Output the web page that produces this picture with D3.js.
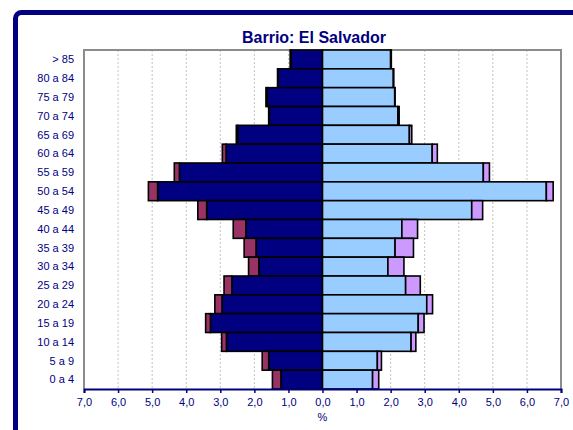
<!DOCTYPE html>
<html>
<head>
<meta charset="utf-8">
<script src="https://cdn.jsdelivr.net/npm/d3@7"></script>
<style>
  body { margin: 0; background: #fff; }
  svg text { font-family: Arial, "Liberation Sans", sans-serif; fill: #000080; }
</style>
</head>
<body>
<div id="chart"></div>
<script>
"use strict";

// age groups, top to bottom
const ageGroups = ["> 85", "80 a 84", "75 a 79", "70 a 74", "65 a 69", "60 a 64", "55 a 59",
  "50 a 54", "45 a 49", "40 a 44", "35 a 39", "30 a 34", "25 a 29", "20 a 24",
  "15 a 19", "10 a 14", "5 a 9", "0 a 4"];

// left side (%), inner segment and outer extension
const leftMain = [0.92, 1.30, 1.62, 1.56, 2.49, 2.83, 4.20, 4.84, 3.40, 2.25, 1.95, 1.87, 2.66, 2.95, 3.29, 2.82, 1.58, 1.22];
const leftExtra = [0.03, 0.02, 0.04, 0.02, 0.04, 0.11, 0.15, 0.27, 0.26, 0.37, 0.35, 0.30, 0.23, 0.21, 0.14, 0.14, 0.19, 0.25];

// right side (%)
const rightMain = [2.00, 2.08, 2.12, 2.21, 2.55, 3.22, 4.72, 6.57, 4.38, 2.33, 2.13, 1.92, 2.44, 3.06, 2.81, 2.60, 1.61, 1.47];
const rightExtra = [0.02, 0.01, 0.01, 0.04, 0.07, 0.15, 0.18, 0.20, 0.32, 0.46, 0.54, 0.47, 0.43, 0.17, 0.17, 0.14, 0.12, 0.18];

const xTicks = [-7, -6, -5, -4, -3, -2, -1, 0, 1, 2, 3, 4, 5, 6, 7];

const width = 573, height = 430;
const margins = {top: 50, right: 12, bottom: 41, left: 84};
const plotW = width - margins.left - margins.right;
const plotH = height - margins.top - margins.bottom;

const svg = d3.select("#chart")
  .append("svg")
  .attr("width", width)
  .attr("height", height);

// outer navy frame (runs off the right and bottom)
svg.append("rect")
  .attr("x", 15.5).attr("y", 12.5)
  .attr("width", 700).attr("height", 600)
  .attr("rx", 6)
  .attr("fill", "#fff")
  .attr("stroke", "#000080")
  .attr("stroke-width", 5);

svg.append("text")
  .attr("x", 314).attr("y", 42.5)
  .attr("text-anchor", "middle")
  .style("font-size", "16px")
  .style("font-weight", "bold")
  .text("Barrio: El Salvador");

const g = svg.append("g")
  .attr("transform", `translate(${margins.left},${margins.top})`);

const x = d3.scaleLinear().domain([-7, 7]).range([0, plotW]);
const y = d3.scaleBand().domain(ageGroups).range([0, plotH]).padding(0);

// grid
g.append("g")
  .selectAll("line")
  .data(xTicks.filter(t => t > -7 && t < 7))
  .join("line")
  .attr("x1", d => x(d)).attr("x2", d => x(d))
  .attr("y1", 0).attr("y2", plotH)
  .attr("stroke", "#c0c0c0")
  .attr("stroke-dasharray", "2,2");

// plot border (gray)
g.append("path")
  .attr("d", `M0,${plotH}V0H${plotW}V${plotH}`)
  .attr("fill", "none")
  .attr("stroke", "#8c8c8c")
  .attr("stroke-width", 2);

// build segments
let segs = [];
ageGroups.forEach((a, i) => {
  segs.push({age: a, x0: -leftMain[i], x1: 0, color: "#000080"});
  segs.push({age: a, x0: -(leftMain[i] + leftExtra[i]), x1: -leftMain[i], color: "#993366"});
  segs.push({age: a, x0: 0, x1: rightMain[i], color: "#99ccff"});
  segs.push({age: a, x0: rightMain[i], x1: rightMain[i] + rightExtra[i], color: "#cc99ff"});
});

g.append("g")
  .selectAll("rect")
  .data(segs)
  .join("rect")
  .attr("x", d => x(d.x0))
  .attr("y", d => y(d.age))
  .attr("width", d => x(d.x1) - x(d.x0))
  .attr("height", y.bandwidth())
  .attr("fill", d => d.color)
  .attr("stroke", "#000")
  .attr("stroke-width", 1.6);

// y labels
g.append("g")
  .selectAll("text")
  .data(ageGroups)
  .join("text")
  .attr("x", -10)
  .attr("y", d => y(d) + y.bandwidth() / 2)
  .attr("dy", "0.35em")
  .attr("text-anchor", "end")
  .style("font-size", "11px")
  .text(d => d);

// x axis
const xAxis = d3.axisBottom(x)
  .tickValues(xTicks)
  .tickSize(4)
  .tickFormat(d => d3.format(".1f")(Math.abs(d)).replace(".", ","));

const ax = g.append("g")
  .attr("transform", `translate(0,${plotH})`)
  .call(xAxis);
ax.select(".domain").attr("stroke", "#000080").attr("stroke-width", 2);
ax.selectAll(".tick line").attr("stroke", "#000080").attr("stroke-width", 1.5);
ax.selectAll(".tick text")
  .attr("y", 9)
  .style("font-size", "11px")
  .style("font-family", "Arial, 'Liberation Sans', sans-serif")
  .attr("fill", "#000080");

svg.append("text")
  .attr("x", x(0) + margins.left)
  .attr("y", 421)
  .attr("text-anchor", "middle")
  .style("font-size", "11px")
  .text("%");
</script>
</body>
</html>
